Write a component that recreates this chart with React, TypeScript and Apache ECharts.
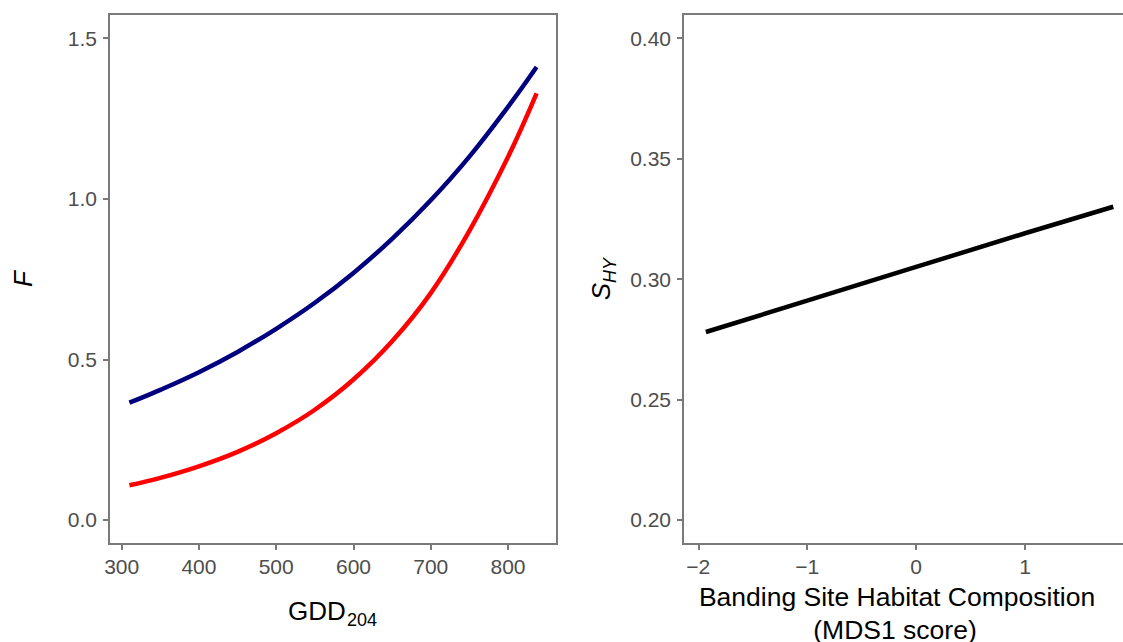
import React, { useEffect, useRef } from "react";
import * as echarts from "echarts";

const gdd = [310, 350, 400, 450, 500, 550, 600, 650, 700, 750, 800, 837];
const fBlue = [0.365, 0.405, 0.46, 0.523, 0.595, 0.676, 0.769, 0.875, 0.995, 1.131, 1.286, 1.41];
const fRed = [0.108, 0.131, 0.167, 0.212, 0.27, 0.343, 0.437, 0.556, 0.706, 0.9, 1.13, 1.328];

const mds = [-1.93, -1, 0, 1, 1.81];
const shy = [0.278, 0.291, 0.305, 0.319, 0.33];

const gddTicks = [300, 400, 500, 600, 700, 800];
const fTicks = [0, 0.5, 1.0, 1.5];
const mdsTicks = [-2, -1, 0, 1];
const shyTicks = [0.2, 0.25, 0.3, 0.35, 0.4];

const FONT = "'Liberation Sans', Arial, Helvetica, sans-serif";
const FRAME = "#7a7a7a";
const LABEL = "#4d4d4d";

function fmtMinus(v: number) {
  return v < 0 ? "\u2212" + Math.abs(v) : String(v);
}

function axisCommon(ticks: number[], fmt: (v: number) => string) {
  return {
    type: "value" as const,
    splitLine: { show: false },
    axisLine: { show: true, onZero: false, lineStyle: { color: FRAME, width: 2 } },
    axisTick: { show: true, inside: false, length: 6, customValues: ticks, lineStyle: { color: FRAME, width: 2 } },
    axisLabel: {
      show: true,
      customValues: ticks,
      formatter: (v: number) => fmt(v),
      color: LABEL,
      fontSize: 21,
      fontFamily: FONT,
      margin: 12,
      hideOverlap: false,
    },
  };
}

export default function App() {
  const ref = useRef<HTMLDivElement>(null);
  useEffect(() => {
    if (!ref.current) return;
    const chart = echarts.init(ref.current, undefined, { renderer: "svg" });
    const blueData = gdd.map((x, i) => [x, fBlue[i]]);
    const redData = gdd.map((x, i) => [x, fRed[i]]);
    const lineData = mds.map((x, i) => [x, shy[i]]);
    chart.setOption({
      animation: false,
      backgroundColor: "#ffffff",
      grid: [
        { left: 109, top: 14, width: 448, height: 530, show: true, borderColor: FRAME, borderWidth: 2, containLabel: false, outerBoundsMode: "none" },
        { left: 683, top: 14, width: 451, height: 530, show: true, borderColor: FRAME, borderWidth: 2, containLabel: false, outerBoundsMode: "none" },
      ],
      xAxis: [
        { ...axisCommon(gddTicks, (v) => String(v)), gridIndex: 0, min: 283.6, max: 863.4 },
        { ...axisCommon(mdsTicks, fmtMinus), gridIndex: 1, min: -2.14, max: 2.0 },
      ],
      yAxis: [
        { ...axisCommon(fTicks, (v) => v.toFixed(1)), gridIndex: 0, min: -0.075, max: 1.575 },
        { ...axisCommon(shyTicks, (v) => v.toFixed(2)), gridIndex: 1, min: 0.19, max: 0.41 },
      ],
      series: [
        {
          type: "line",
          xAxisIndex: 0,
          yAxisIndex: 0,
          data: redData,
          showSymbol: false,
          symbol: "none",
          smooth: 0.4,
          lineStyle: { color: "#ff0000", width: 4.5, cap: "butt" },
        },
        {
          type: "line",
          xAxisIndex: 0,
          yAxisIndex: 0,
          data: blueData,
          showSymbol: false,
          symbol: "none",
          smooth: 0.4,
          lineStyle: { color: "#00007f", width: 4.5, cap: "butt" },
        },
        {
          type: "line",
          xAxisIndex: 1,
          yAxisIndex: 1,
          data: lineData,
          showSymbol: false,
          symbol: "none",
          smooth: false,
          lineStyle: { color: "#000000", width: 4.5, cap: "butt" },
        },
      ],
      graphic: [
        { type: "text", x: 288, y: 611, style: { text: "GDD", fontSize: 26, fontFamily: FONT, fill: "#000", align: "left", verticalAlign: "middle" } },
        { type: "text", x: 347, y: 619.5, style: { text: "204", fontSize: 18, fontFamily: FONT, fill: "#000", align: "left", verticalAlign: "middle" } },
        { type: "text", x: 22.7, y: 279, rotation: Math.PI / 2, style: { text: "F", fontSize: 26, fontStyle: "italic", fontFamily: FONT, fill: "#000", align: "center", verticalAlign: "middle" } },
        {
          type: "group",
          x: 601,
          y: 279,
          rotation: Math.PI / 2,
          children: [
            { type: "text", x: -21.2, y: 0, style: { text: "S", fontSize: 26, fontStyle: "italic", fontFamily: FONT, fill: "#000", align: "left", verticalAlign: "middle" } },
            { type: "text", x: -3.9, y: 8.7, style: { text: "HY", fontSize: 18, fontStyle: "italic", fontFamily: FONT, fill: "#000", align: "left", verticalAlign: "middle" } },
          ],
        },
        { type: "text", x: 897, y: 596.8, style: { text: "Banding Site Habitat Composition", fontSize: 26.5, fontFamily: FONT, fill: "#000", align: "center", verticalAlign: "middle" } },
        { type: "text", x: 895, y: 629.5, style: { text: "(MDS1 score)", fontSize: 26.5, fontFamily: FONT, fill: "#000", align: "center", verticalAlign: "middle" } },
      ],
    });
    return () => chart.dispose();
  }, []);
  return (
    <div
      ref={ref}
      style={{ position: "fixed", left: 0, top: 0, width: 1123, height: 642, background: "#fff" }}
    />
  );
}
